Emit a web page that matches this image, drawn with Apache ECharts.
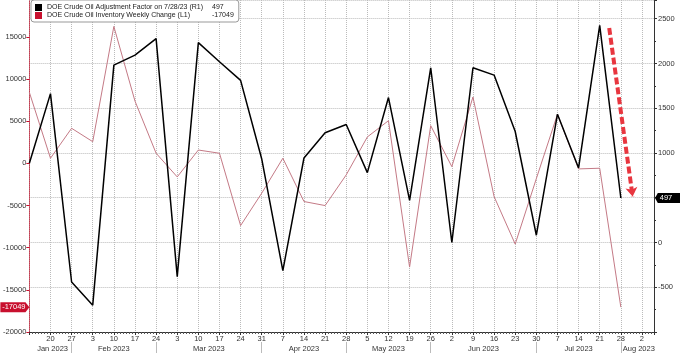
<!DOCTYPE html>
<html><head><meta charset="utf-8">
<script src="https://cdn.jsdelivr.net/npm/echarts@6/dist/echarts.min.js"></script>
<style>html,body{margin:0;padding:0;background:#fff}#c{width:680px;height:353px}</style>
</head><body><div id="c"></div>
<script>
// week index 0 = Jan 13 2023 ... 28 = Jul 28 2023, 29 = "2" (Aug)
const tickLabels = ['', '20','27','3','10','17','24','3','10','17','24','31','7','14','21','28','5','12','19','26','2','9','16','23','30','7','14','21','28','2'];
const monthNames = ['Jan 2023','Feb 2023','Mar 2023','Apr 2023','May 2023','Jun 2023','Jul 2023','Aug 2023'];
const monthCenters = [1.1, 4, 8.5, 13, 17, 21.5, 26, 28.85];
const monthSeparators = [2, 6, 11, 15, 19, 24, 28];
const adjFactor = [885, 1663, -441, -700, 1981, 2093, 2278, -381, 2233, 2019, 1811, 933, -315, 944, 1226, 1318, 781, 1619, 470, 1952, 0, 1952, 1870, 1240, 81, 1433, 833, 2426, 497];
const invChange = [8436, 616, 4170, 2583, 16250, 7400, 1208, -1600, 1590, 1208, -7370, -3530, 616, -4520, -5000, -1360, 3140, 5070, -12300, 4480, -380, 7880, -3930, -9570, -1800, 5830, -650, -570, -17049];
const adjName = 'DOE Crude Oil Adjustment Factor on 7/28/23 (R1)';
const invName = 'DOE Crude Oil Inventory Weekly Change (L1)';
const arrowFrom = [27.45, 2397], arrowTo = [28.56, 514];
const xMax = 29.57;

const adjLast = adjFactor[adjFactor.length - 1];
const invLast = invChange[invChange.length - 1];
const F = 'Liberation Sans, Arial, sans-serif';

const chart = echarts.init(document.getElementById('c'), null, {renderer: 'canvas'});
chart.setOption({
  animation: false,
  backgroundColor: '#fff',
  textStyle: {fontFamily: F},
  grid: {left: 29, right: 26, top: 0, bottom: 21, containLabel: false},
  legend: {
    orient: 'vertical', left: 31, top: 0,
    padding: [4, 5, 3, 4], itemGap: 1, itemWidth: 7, itemHeight: 7,
    backgroundColor: '#fff', borderColor: '#999', borderWidth: 1, borderRadius: 3,
    icon: 'rect',
    data: [{name: adjName, itemStyle: {color: '#000'}}, {name: invName, itemStyle: {color: '#c8102e'}}],
    formatter: function (name) {
      const v = name === adjName ? adjLast : invLast;
      return '{n|' + name + '}{v|' + v + '}';
    },
    textStyle: {
      fontFamily: F, fontSize: 7, color: '#222',
      rich: {n: {width: 165, fontSize: 7, lineHeight: 8, fontFamily: F, color: '#222'}, v: {fontSize: 7, lineHeight: 8, fontFamily: F, color: '#222'}}
    }
  },
  xAxis: [{
    type: 'value', min: 0, max: xMax, interval: 1,
    axisLine: {onZero: false, lineStyle: {color: '#333', width: 1}},
    axisTick: {show: true, length: 3, lineStyle: {color: '#333'}},
    minorTick: {show: true, splitNumber: 7, length: 2, lineStyle: {color: '#555'}},
    splitLine: {show: true, lineStyle: {color: '#bbb', type: 'dotted', width: 1}},
    axisLabel: {
      margin: 3, fontSize: 7.5, color: '#333', fontFamily: F,
      showMaxLabel: false, showMinLabel: false,
      formatter: function (v) { const l = tickLabels[v]; return l === undefined ? '' : l; }
    }
  }, {
    type: 'value', min: 0, max: xMax, position: 'bottom', offset: 10,
    axisLine: {show: false, onZero: false},
    axisTick: {show: true, customValues: monthSeparators, length: 11, lineStyle: {color: '#bbb'}},
    splitLine: {show: false},
    axisLabel: {
      customValues: monthCenters, margin: 3, fontSize: 7.5, color: '#333', fontFamily: F,
      formatter: function (v) {
        let best = 0;
        monthCenters.forEach(function (c, i) { if (Math.abs(c - v) < Math.abs(monthCenters[best] - v)) best = i; });
        return monthNames[best];
      }
    }
  }],
  yAxis: [{
    type: 'value', position: 'left', min: -20000, max: 19390, interval: 5000,
    axisLine: {show: true, onZero: false, lineStyle: {color: '#c83c50', type: 'dotted', width: 1}},
    axisTick: {show: true, length: 3, lineStyle: {color: '#c8102e', width: 1}},
    splitLine: {show: false},
    axisLabel: {margin: 3, fontSize: 7.5, color: '#333', fontFamily: F, showMaxLabel: false,
      formatter: function (v) { return String(v); }}
  }, {
    type: 'value', position: 'right', min: -1000, max: 2709, interval: 500,
    axisLine: {show: true, onZero: false, lineStyle: {color: '#333', width: 1}},
    axisTick: {show: true, length: 3, lineStyle: {color: '#333'}},
    minorTick: {show: true, splitNumber: 2, length: 2, lineStyle: {color: '#333'}},
    splitLine: {show: true, lineStyle: {color: '#bbb', type: 'dotted', width: 1}},
    axisLabel: {
      margin: 4, fontSize: 7.5, color: '#333', fontFamily: F, showMaxLabel: false,
      formatter: function (v) { return (v === 500 || v === -1000) ? '' : String(v); }
    }
  }],
  series: [{
    name: invName, type: 'line', xAxisIndex: 0, yAxisIndex: 0,
    data: invChange.map(function (v, i) { return [i, v]; }),
    symbol: 'none', lineStyle: {color: '#c47a86', width: 1}, itemStyle: {color: '#c8102e'},
    z: 2,
    markPoint: {
      silent: true,
      symbol: 'path://M0,0 L26,0 L30,5 L26,10 L0,10 Z', symbolSize: [29, 10], symbolOffset: [-14.5, 0],
      itemStyle: {color: '#c8102e'},
      label: {show: true, position: 'inside', color: '#fff', fontSize: 7.5, fontFamily: F, offset: [-1, 0], formatter: '{c}'},
      data: [{coord: [0, invLast], value: invLast}]
    }
  }, {
    name: adjName, type: 'line', xAxisIndex: 0, yAxisIndex: 1,
    data: adjFactor.map(function (v, i) { return [i, v]; }),
    symbol: 'none', lineStyle: {color: '#000', width: 1.5}, itemStyle: {color: '#000'},
    z: 3,
    markPoint: {
      silent: true,
      symbol: 'path://M4,0 L40,0 L40,10 L4,10 L0,5 Z', symbolSize: [28, 10], symbolOffset: [15, 0],
      itemStyle: {color: '#000'},
      label: {show: true, position: 'inside', color: '#fff', fontSize: 7.5, fontFamily: F, offset: [-3, 0], formatter: '{c}'},
      data: [{coord: [xMax, adjLast], value: adjLast}]
    },
    markLine: {
      silent: true, symbol: ['none', 'arrow'], symbolSize: [9, 9],
      label: {show: false},
      lineStyle: {color: '#e8363f', width: 4, type: [7, 3]},
      data: [[{coord: arrowFrom}, {coord: arrowTo}]]
    }
  }]
});
</script>
</body></html>
